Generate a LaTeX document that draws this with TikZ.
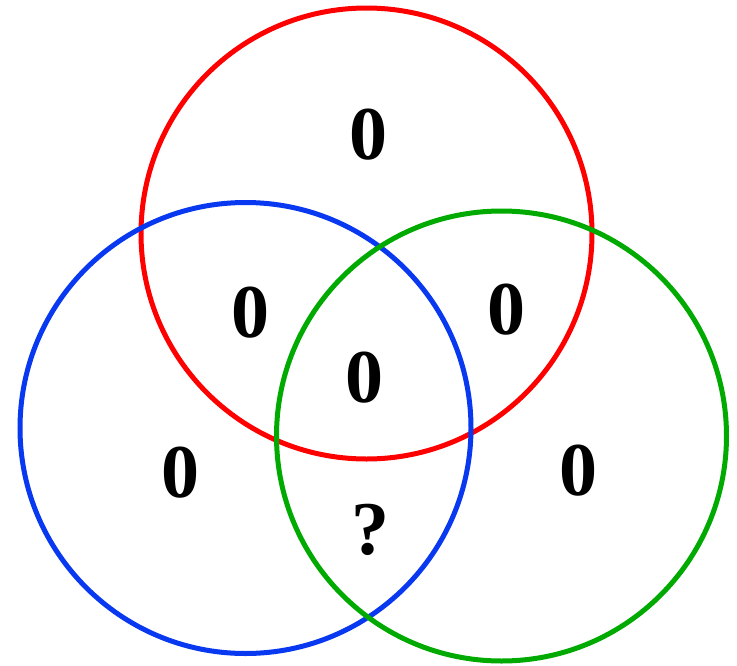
\documentclass[tikz,border=0pt]{standalone}
\usepackage{fontspec}
\setmainfont{Liberation Serif}
\usepackage{tikz}
\definecolor{vred}{RGB}{255,0,0}
\definecolor{vblue}{RGB}{8,56,240}
\definecolor{vgreen}{RGB}{0,170,0}

\begin{document}
\begin{tikzpicture}[
    x=1pt, y=-1pt,
    ring/.style={line width=5pt},
    num/.style={inner sep=0pt, font=\fontsize{76}{76}\selectfont\bfseries}
]
\useasboundingbox (0,0) rectangle (737,665);
\draw[ring, vred] (366.5,233.5) circle[radius=225.5pt];
\draw[ring, vblue] (245.5,428) circle[radius=225.5pt];
\draw[ring, vgreen] (501.5,436) circle[radius=225pt];
\node[num] (top) at (368,135) {0};
\node[num] (redblue) at (250,313) {0};
\node[num] (redgreen) at (506,310) {0};
\node[num] (all) at (364,378) {0};
\node[num] (blue) at (180,473) {0};
\node[num] (green) at (578,471) {0};
\node[num] (bluegreen) at (370,530) {?};
\end{tikzpicture}
\end{document}
